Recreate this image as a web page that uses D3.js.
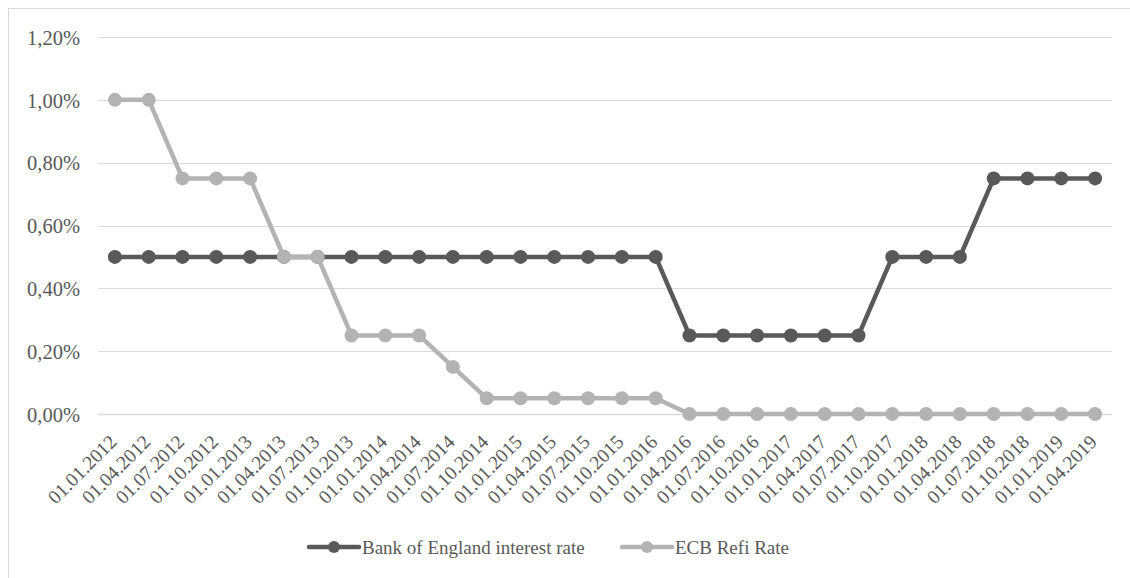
<!DOCTYPE html>
<html><head><meta charset="utf-8">
<script src="https://cdn.jsdelivr.net/npm/d3@7"></script>
<style>body{margin:0;background:#fff}svg{display:block}svg text{font-family:"Liberation Serif","Times New Roman",serif;fill:#595959}</style>
</head><body>
<svg id="c" width="1130" height="578"></svg>
<script>
const categories = ["01.01.2012","01.04.2012","01.07.2012","01.10.2012","01.01.2013","01.04.2013","01.07.2013","01.10.2013","01.01.2014","01.04.2014","01.07.2014","01.10.2014","01.01.2015","01.04.2015","01.07.2015","01.10.2015","01.01.2016","01.04.2016","01.07.2016","01.10.2016","01.01.2017","01.04.2017","01.07.2017","01.10.2017","01.01.2018","01.04.2018","01.07.2018","01.10.2018","01.01.2019","01.04.2019"];
const boeRate = [0.5,0.5,0.5,0.5,0.5,0.5,0.5,0.5,0.5,0.5,0.5,0.5,0.5,0.5,0.5,0.5,0.5,0.25,0.25,0.25,0.25,0.25,0.25,0.5,0.5,0.5,0.75,0.75,0.75,0.75];
const ecbRate = [1.0,1.0,0.75,0.75,0.75,0.5,0.5,0.25,0.25,0.25,0.15,0.05,0.05,0.05,0.05,0.05,0.05,0,0,0,0,0,0,0,0,0,0,0,0,0];
const yTicks = [0,0.2,0.4,0.6,0.8,1.0,1.2];
const seriesNames = ["Bank of England interest rate","ECB Refi Rate"];
const seriesColors = ["#595959","#b3b3b3"];

const svg = d3.select("#c");
svg.append("rect").attr("x",8.5).attr("y",8.5).attr("width",1140).attr("height",600).attr("fill","none").attr("stroke","#d9d9d9").attr("stroke-width",1);

const x = d3.scaleBand().domain(categories).range([98,1112]);
const y = d3.scaleLinear().domain([0,1.2]).range([414,37]);
const fmt = v => v.toFixed(2).replace(".",",") + "%";

const grid = svg.append("g");
grid.selectAll("line").data(yTicks).join("line")
  .attr("x1",98).attr("x2",1112).attr("y1",d=>Math.round(y(d))+0.5).attr("y2",d=>Math.round(y(d))+0.5)
  .attr("stroke","#d9d9d9").attr("stroke-width",d=>d===0?1.5:1);

const yAxis = d3.axisLeft(y).tickValues(yTicks).tickFormat(fmt).tickSize(0).tickPadding(0);
const ya = svg.append("g").attr("transform","translate(80,0)").call(yAxis);
ya.select(".domain").remove();
ya.attr("font-family",null).attr("font-size",null);
ya.selectAll("text").attr("dy","0.35em").style("font-size","20.5px");

const xAxis = d3.axisBottom(x).tickSize(0).tickPadding(0);
const xa = svg.append("g").attr("transform","translate(0,414)").call(xAxis);
xa.select(".domain").remove();
xa.attr("font-family",null).attr("font-size",null);
xa.selectAll("text").attr("text-anchor","end").attr("dy",null).attr("y",0)
  .style("font-size","19.5px")
  .attr("transform","translate(3,29) rotate(-45)");

const cx = d => x(d) + x.bandwidth()/2;
const line = d3.line().x((d,i)=>cx(categories[i])).y(d=>y(d));
[boeRate, ecbRate].forEach((s,k)=>{
  const g = svg.append("g");
  g.append("path").datum(s).attr("d",line).attr("fill","none").attr("stroke",seriesColors[k]).attr("stroke-width",4.5).attr("stroke-linejoin","round");
  g.selectAll("circle").data(s).join("circle").attr("cx",(d,i)=>cx(categories[i])).attr("cy",d=>y(d)).attr("r",7).attr("fill",seriesColors[k]);
});

const legX = [309,622];
seriesNames.forEach((n,k)=>{
  const g = svg.append("g").attr("transform",`translate(${legX[k]},547)`);
  g.append("line").attr("x1",0).attr("x2",50).attr("y1",0).attr("y2",0).attr("stroke",seriesColors[k]).attr("stroke-width",4.5).attr("stroke-linecap","round");
  g.append("circle").attr("cx",25).attr("cy",0).attr("r",6).attr("fill",seriesColors[k]);
  g.append("text").attr("x",53).attr("y",0).attr("dy","0.35em").style("font-size","19px").text(n);
});
</script>
</body></html>
